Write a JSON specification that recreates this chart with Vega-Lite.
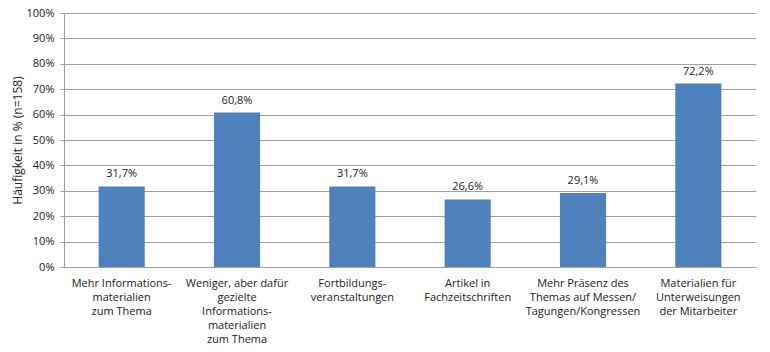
{
  "$schema": "https://vega.github.io/schema/vega-lite/v6.json",
  "autosize": {"type": "none"},
  "width": 692,
  "height": 254,
  "padding": {"left": 64, "top": 13, "right": 14, "bottom": 85},
  "background": "white",
  "data": {"values": [
    {"kategorie": "Mehr Informations-|materialien|zum Thema", "anteil": 0.317},
    {"kategorie": "Weniger, aber dafür|gezielte|Informations-|materialien|zum Thema", "anteil": 0.608},
    {"kategorie": "Fortbildungs-|veranstaltungen", "anteil": 0.317},
    {"kategorie": "Artikel in|Fachzeitschriften", "anteil": 0.266},
    {"kategorie": "Mehr Präsenz des|Themas auf Messen/|Tagungen/Kongressen", "anteil": 0.291},
    {"kategorie": "Materialien für|Unterweisungen|der Mitarbeiter", "anteil": 0.722}
  ]},
  "encoding": {
    "x": {"field": "kategorie", "type": "nominal", "sort": null,
      "scale": {"paddingInner": 0.6, "paddingOuter": 0.3},
      "axis": {"title": null, "labelAngle": 0, "labelExpr": "split(datum.label, '|')",
        "labelFont": "Open Sans", "labelFontSize": 11, "labelColor": "#222", "labelLineHeight": 14,
        "labelPadding": 10, "ticks": false, "domainColor": "#a0a0a0", "labelLimit": 200}},
    "y": {"field": "anteil", "type": "quantitative",
      "scale": {"domain": [0, 1]},
      "axis": {"title": "Häufigkeit in % (n=158)", "values": [0,0.1,0.2,0.3,0.4,0.5,0.6,0.7,0.8,0.9,1],
        "format": ".0%", "titleFont": "Open Sans", "titleFontSize": 12, "titleFontWeight": "normal",
        "titleColor": "#222", "labelFont": "Open Sans", "labelFontSize": 11, "labelColor": "#222",
        "titlePadding": 2, "domainColor": "#a0a0a0", "tickColor": "#a0a0a0", "tickSize": 4,
        "gridColor": "#a0a0a0", "gridWidth": 1, "labelPadding": 6}}
  },
  "layer": [
    {"mark": {"type": "bar", "color": "#4f81bd"}},
    {"mark": {"type": "text", "dy": -12, "font": "Open Sans", "fontSize": 11, "color": "#222"},
     "encoding": {"text": {"field": "anteil", "type": "quantitative", "format": ".1%"}}}
  ],
  "config": {
    "view": {"stroke": null},
    "locale": {"number": {"decimal": ",", "thousands": ".", "grouping": [3], "currency": ["", " €"], "percent": "%"}}
  }
}
